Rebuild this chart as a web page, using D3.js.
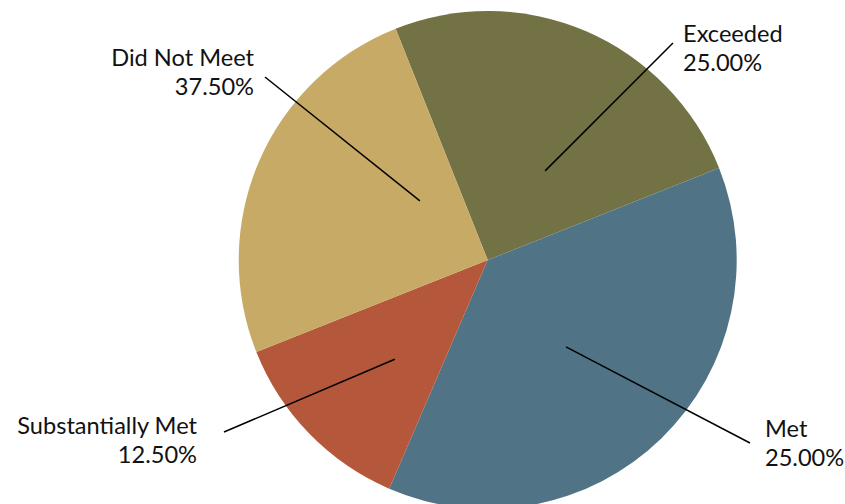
<!DOCTYPE html>
<html>
<head>
<meta charset="utf-8">
<script src="https://cdn.jsdelivr.net/npm/d3@7"></script>
<style>
  html, body { margin: 0; padding: 0; background: #fff; }
  text { font-family: Lato, "Open Sans", sans-serif; fill: #111; }
</style>
</head>
<body>
<svg id="chart" width="845" height="504"></svg>
<script>
// chart data
const categories = ["Exceeded", "Met", "Substantially Met", "Did Not Meet"];
const sliceValues = [25, 37.5, 12.5, 25];
const pctLabels = ["25.00%", "25.00%", "12.50%", "37.50%"];
const sliceColors = ["#737245", "#507486", "#b4573a", "#c8aa67"];

let width = 845,
    height = 504,
    cx = 487.7,
    cy = 260,
    radius = 249;

// label placement: anchor point inside the slice (angle in deg, distance from centre),
// line end and text anchor in page coords
let labelLayout = [
    {angle: 32.8, dist: 106, lineEnd: [673, 43], x: 683, y: 42, align: "start"},
    {angle: 138, dist: 117, lineEnd: [750, 443], x: 765, y: 437, align: "start"},
    {angle: 223.1, dist: 136, lineEnd: [224, 432], x: 197, y: 434, align: "end"},
    {angle: 311.1, dist: 90, lineEnd: [265, 77], x: 254, y: 66, align: "end"}
];

let svg = d3.select("#chart");

let startAngle = -21.7 * Math.PI / 180;
let pie = d3.pie()
    .sort(null)
    .value(d => d)
    .startAngle(startAngle)
    .endAngle(startAngle + 2 * Math.PI);

let arc = d3.arc().innerRadius(0).outerRadius(radius);

let g = svg.append("g")
    .attr("transform", "translate(" + cx + "," + cy + ")");

g.selectAll("path")
    .data(pie(sliceValues))
    .enter().append("path")
    .attr("d", arc)
    .attr("fill", (d, i) => sliceColors[i]);

// leader lines
labelLayout.forEach(function (l) {
    let p = d3.pointRadial(l.angle * Math.PI / 180, l.dist);
    svg.append("line")
        .attr("x1", cx + p[0])
        .attr("y1", cy + p[1])
        .attr("x2", l.lineEnd[0])
        .attr("y2", l.lineEnd[1])
        .attr("stroke", "#000")
        .attr("stroke-width", 1.5);
});

// labels
let labels = svg.selectAll("text.lbl")
    .data(categories)
    .enter().append("text")
    .attr("class", "lbl")
    .attr("font-size", 23.6)
    .attr("text-anchor", (d, i) => labelLayout[i].align);

labels.append("tspan")
    .attr("x", (d, i) => labelLayout[i].x)
    .attr("y", (d, i) => labelLayout[i].y)
    .text(d => d);

labels.append("tspan")
    .attr("x", (d, i) => labelLayout[i].x)
    .attr("y", (d, i) => labelLayout[i].y + 28.5)
    .text((d, i) => pctLabels[i]);
</script>
</body>
</html>
